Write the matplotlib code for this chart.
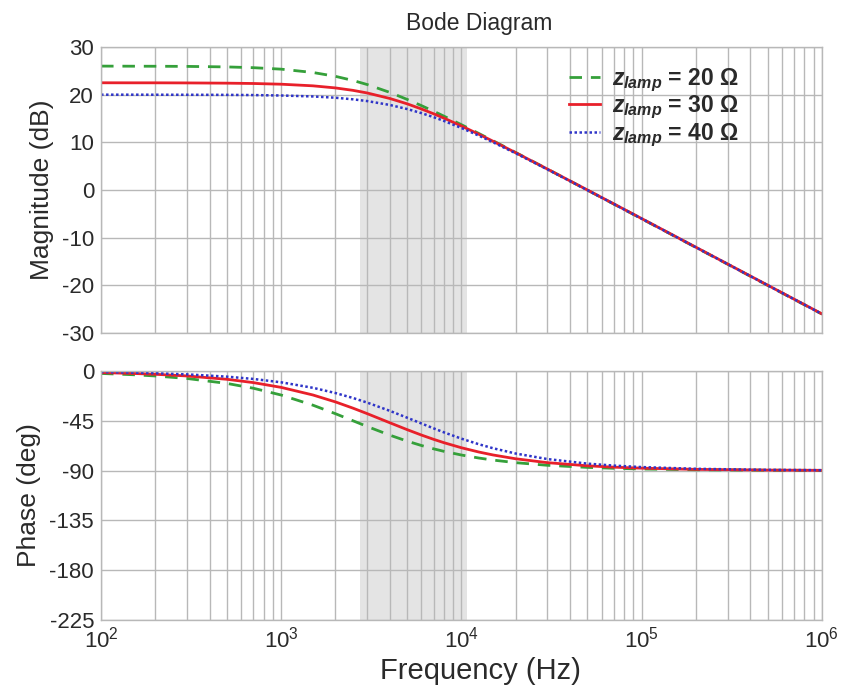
import matplotlib
matplotlib.use("Agg")
import matplotlib.pyplot as plt
from matplotlib.ticker import LogLocator, FixedLocator

plt.rcParams['font.family'] = ['Liberation Sans', 'DejaVu Sans']
plt.rcParams['mathtext.fontset'] = 'custom'
plt.rcParams['mathtext.rm'] = 'Liberation Sans'
plt.rcParams['mathtext.it'] = 'Liberation Sans:italic:bold'
plt.rcParams['mathtext.bf'] = 'Liberation Sans:bold'
plt.rcParams['axes.unicode_minus'] = False

# ---- data ----
freq_hz = [100, 150, 200, 300, 500, 700, 1000, 1500, 2000, 2500, 3000, 4000, 5000,
           6000, 7000, 8000, 10000, 12500, 15000, 20000, 30000, 50000, 70000,
           100000, 200000, 500000, 1000000]

mag_20 = [26.00, 25.98, 25.97, 25.94, 25.83, 25.67, 25.36, 24.66, 23.85, 22.99, 22.13,
          20.49, 19.01, 17.70, 16.54, 15.49, 13.70, 11.85, 10.32, 7.87, 4.39, -0.03,
          -2.95, -6.04, -12.06, -20.02, -26.04]
mag_30 = [22.50, 22.49, 22.49, 22.47, 22.42, 22.35, 22.20, 21.86, 21.42, 20.91, 20.36,
          19.21, 18.08, 17.00, 16.00, 15.08, 13.43, 11.69, 10.22, 7.83, 4.39, 0.00,
          -2.91, -6.00, -12.02, -19.98, -26.00]
mag_40 = [20.00, 20.00, 19.99, 19.98, 19.96, 19.92, 19.83, 19.63, 19.36, 19.03, 18.66,
          17.85, 16.99, 16.13, 15.29, 14.49, 13.01, 11.40, 10.00, 7.70, 4.32, -0.04,
          -2.94, -6.03, -12.04, -20.00, -26.02]

ph_20 = [-2.29, -3.43, -4.57, -6.84, -11.31, -15.64, -21.80, -30.96, -38.66, -45.00,
         -50.19, -57.99, -63.43, -67.38, -70.35, -72.65, -75.96, -78.69, -80.54,
         -82.87, -85.24, -87.14, -87.95, -88.57, -89.28, -89.71, -89.86]
ph_30 = [-1.52, -2.28, -3.05, -4.56, -7.58, -10.55, -14.89, -21.75, -28.01, -33.62,
         -38.59, -46.78, -53.06, -57.93, -61.76, -64.83, -69.40, -73.26, -75.93,
         -79.35, -82.86, -85.70, -86.93, -87.85, -88.92, -89.57, -89.78]
ph_40 = [-1.04, -1.56, -2.08, -3.12, -5.19, -7.25, -10.30, -15.26, -19.98, -24.44,
         -28.61, -36.03, -42.27, -47.49, -51.84, -55.49, -61.19, -66.25, -69.86,
         -74.62, -79.61, -83.72, -85.51, -86.85, -88.42, -89.37, -89.68]

series_labels = [r'$z_{lamp}$ = 20 Ω', r'$z_{lamp}$ = 30 Ω', r'$z_{lamp}$ = 40 Ω']
band_hz = [2750, 10700]
mag_ticks = [-30, -20, -10, 0, 10, 20, 30]
phase_ticks = [0, -45, -90, -135, -180, -225]

# ---- figure ----
fig = plt.figure(figsize=(8.42, 6.92), dpi=100)
ax1 = fig.add_axes([0.12, 0.519, 0.856, 0.413])
ax2 = fig.add_axes([0.12, 0.104, 0.856, 0.360])

grid_c = '#b8b8b8'
txt_c = '#2a2a2a'
styles = [dict(color='#35a03a', ls=(0, (4.5, 3.2)), lw=2.0),
          dict(color='#e8202a', ls='-', lw=2.0),
          dict(color='#2f35c8', ls=(0, (1, 1)), lw=1.8)]

for ax in (ax1, ax2):
    ax.set_xscale('log')
    ax.set_xlim(1e2, 1e6)
    ax.axvspan(band_hz[0], band_hz[1], color='#e4e4e4', zorder=0.1, lw=0)
    ax.set_axisbelow(True)
    ax.xaxis.set_major_locator(LogLocator(base=10, numticks=10))
    ax.xaxis.set_minor_locator(LogLocator(base=10, subs=range(2, 10), numticks=100))
    ax.grid(True, which='major', color=grid_c, lw=1.0)
    ax.grid(True, which='minor', axis='x', color=grid_c, lw=1.0)
    for s in ax.spines.values():
        s.set_color(grid_c)
        s.set_linewidth(1.0)
    ax.tick_params(which='both', length=0, labelsize=16, colors=txt_c, pad=5)

for y, st, lab in zip([mag_20, mag_30, mag_40], styles, series_labels):
    ax1.plot(freq_hz, y, label=lab, **st)
for y, st in zip([ph_20, ph_30, ph_40], styles):
    ax2.plot(freq_hz, y, **st)

ax1.set_ylim(-30, 30)
ax1.yaxis.set_major_locator(FixedLocator(mag_ticks))
ax1.tick_params(axis='x', labelbottom=False)
ax2.set_ylim(-225, 0)
ax2.yaxis.set_major_locator(FixedLocator(phase_ticks))

ax1.set_ylabel('Magnitude (dB)', fontsize=19, color=txt_c, labelpad=6)
ax2.set_ylabel('Phase (deg)', fontsize=19, color=txt_c, labelpad=6)
ax2.set_xlabel('Frequency (Hz)', fontsize=21, color=txt_c, labelpad=3)
ax2.xaxis.label.set_x(0.527)
ax1.set_title('Bode Diagram', fontsize=16.5, color=txt_c, pad=12, x=0.525)

leg = ax1.legend(loc='upper left', bbox_to_anchor=(0.63, 0.98), frameon=False,
                 prop={'weight': 'bold', 'size': 16.5}, handlelength=1.35,
                 handletextpad=0.55, labelspacing=0.0, borderaxespad=0.2)
for t in leg.get_texts():
    t.set_color(txt_c)

fig.savefig('out.png', dpi=100)
